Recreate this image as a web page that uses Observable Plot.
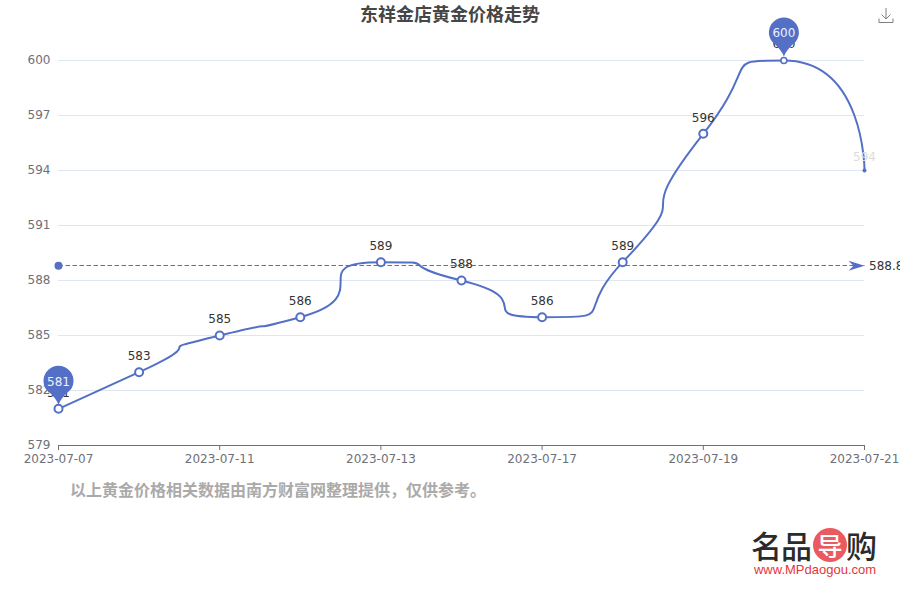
<!DOCTYPE html>
<html>
<head>
<meta charset="utf-8">
<script src="https://cdn.jsdelivr.net/npm/d3@7"></script>
<script src="https://cdn.jsdelivr.net/npm/@observablehq/plot@0.6"></script>
<style>
html,body{margin:0;padding:0;background:#fff;}
#wrap{position:relative;width:900px;height:600px;overflow:hidden;background:#fff;font-family:"DejaVu Sans",sans-serif;}
#wrap svg.plot,#wrap > svg:last-child{position:absolute;left:0;top:0;display:block;}
.t{position:absolute;white-space:nowrap;font-family:"Noto Sans CJK SC",sans-serif;}
#title{left:0;width:900px;top:0;text-align:center;font-size:18px;line-height:26px;font-weight:700;color:#464646;}
#note{left:70px;top:477px;font-size:16px;line-height:24px;font-weight:700;color:#aaa;}
#logoA{left:751px;top:524px;font-size:31px;line-height:42px;font-weight:500;color:#2b2b2b;letter-spacing:-1px;}
#logoB{left:846px;top:524px;font-size:31px;line-height:42px;font-weight:500;color:#2b2b2b;}
#logoC{left:813px;top:528px;width:34px;height:34px;border-radius:50%;background:#ea5a5e;color:#fff;font-size:25px;line-height:34px;text-align:center;font-weight:500;}
#logoU{left:740px;width:150px;top:562px;text-align:center;font-family:"Liberation Sans",Arial,sans-serif;font-size:13px;line-height:16px;color:#e8343a;}
#dl{position:absolute;left:878px;top:7px;}
</style>
</head>
<body>
<div id="wrap">
<div class="t" id="title">东祥金店黄金价格走势</div>
<div class="t" id="note">以上黄金价格相关数据由南方财富网整理提供&#xFF0C;仅供参考。</div>
<div class="t" id="logoA">名品</div>
<div class="t" id="logoC">导</div>
<div class="t" id="logoB">购</div>
<div class="t" id="logoU">www.MPdaogou.com</div>
<svg id="dl" width="16" height="17" viewBox="0 0 16 17" fill="none" stroke="#808080" stroke-width="1"><path d="M8 1V12M3.5 7.5L8 12L12.5 7.5M1 11.5V15.5H15V11.5"/></svg>
</div>
<script>
const dates = ["2023-07-07","2023-07-10","2023-07-11","2023-07-12","2023-07-13","2023-07-14","2023-07-17","2023-07-18","2023-07-19","2023-07-20","2023-07-21"];
const prices = [581,583,585,586,589,588,586,589,596,600,594];
const xTickLabels = ["2023-07-07","2023-07-11","2023-07-13","2023-07-17","2023-07-19","2023-07-21"];
const yTicks = [579,582,585,588,591,594,597,600];
const average = 588.8;
const minDate = "2023-07-07", maxDate = "2023-07-20", lastDate = "2023-07-21";

const BLUE = "#5470C6", AXIS = "#6E7079", GRID = "#E0E6F1";

const rows = dates.map((date, i) => ({date, price: prices[i]}));
const bigRows = rows.filter(d => d.date !== lastDate && d.date !== maxDate);
const maxRow = rows.filter(d => d.date === maxDate);
const lastRow = rows.filter(d => d.date === lastDate);
const plainLabels = rows.filter(d => d.date !== lastDate);
const pinRows = rows.filter(d => d.date === minDate || d.date === maxDate);
const avgRow = [{date: dates[0], end: lastDate, price: average}];

// Smooth line with mid-segment inflections: tangent-based Bezier with tension 1 and clamped control points.
function smoothCurve(context) {
  let pts = [];
  return {
    areaStart() {}, areaEnd() {},
    lineStart() { pts = []; },
    point(x, y) { pts.push([+x, +y]); },
    lineEnd() {
      const n = pts.length, s = 1;
      if (!n) return;
      context.moveTo(pts[0][0], pts[0][1]);
      let cx = pts[0][0], cy = pts[0][1];
      const clamp = (v, a, b) => Math.max(Math.min(v, Math.max(a, b)), Math.min(a, b));
      for (let i = 1; i < n; i++) {
        const [x, y] = pts[i], [px, py] = pts[i - 1];
        let ax = x, ay = y, nx = x, ny = y;
        if (i + 1 < n) {
          const [qx, qy] = pts[i + 1];
          let vx = qx - px, vy = qy - py;
          const l0 = Math.hypot(x - px, y - py), l1 = Math.hypot(qx - x, qy - y);
          const r = l1 / (l0 + l1);
          nx = clamp(x + vx * s * r, qx, x);
          ny = clamp(y + vy * s * r, qy, y);
          vx = nx - x; vy = ny - y;
          ax = clamp(x - vx * l0 / l1, px, x);
          ay = clamp(y - vy * l0 / l1, py, y);
          vx = x - ax; vy = y - ay;
          nx = x + vx * l1 / l0;
          ny = y + vy * l1 / l0;
        }
        context.bezierCurveTo(cx, cy, ax, ay, x, y);
        cx = nx; cy = ny;
      }
    }
  };
}

// Map-pin glyph, sitting just above the data point.
const pinSymbol = {draw(c) {
  const a = 0.6435;
  c.moveTo(0, -4);
  c.quadraticCurveTo(-2.5, -11, -12, -19);
  c.arc(0, -28, 15, Math.PI - a, a, false);
  c.quadraticCurveTo(2.5, -11, 0, -4);
  c.closePath();
}};
// Arrow head whose tip sits on the end of the average line.
const arrowSymbol = {draw(c) {
  c.moveTo(0, 0);
  c.lineTo(-16, -5);
  c.lineTo(-11, 0);
  c.lineTo(-16, 5);
  c.closePath();
}};

const chart = Plot.plot({
  width: 900, height: 600,
  marginLeft: 58, marginRight: 36, marginTop: 60, marginBottom: 155,
  style: {background: "transparent", fontFamily: "'DejaVu Sans',sans-serif", fontSize: "12px", overflow: "visible"},
  x: {type: "point", domain: dates, padding: 0, round: false},
  y: {domain: [579, 600]},
  marks: [
    Plot.ruleY(yTicks.slice(1), {stroke: GRID, strokeWidth: 1}),
    Plot.axisY({ticks: yTicks, tickSize: 0, tickPadding: 8, label: null, fill: AXIS, fontSize: 12}),
    Plot.ruleY([579], {stroke: AXIS, strokeWidth: 1}),
    Plot.axisX({ticks: xTickLabels, tickSize: 5, tickPadding: 4, label: null, stroke: AXIS, fill: AXIS, fontSize: 12}),
    Plot.link(avgRow, {x1: "date", x2: "end", y1: "price", y2: "price", dy: -0.33, stroke: BLUE, strokeWidth: 1, strokeDasharray: "4.5,2.5"}),
    Plot.dot(avgRow, {x: "date", y: "price", r: 4, fill: BLUE, stroke: null}),
    Plot.dot(avgRow, {x: "end", y: "price", r: 1, symbol: arrowSymbol, fill: BLUE, stroke: null}),
    Plot.text(avgRow, {x: "end", y: "price", text: d => String(d.price), dx: 4.5, textAnchor: "start", fill: "#333", fontSize: 12}),
    Plot.line(rows, {x: "date", y: "price", curve: smoothCurve, stroke: BLUE, strokeWidth: 2}),
    Plot.dot(bigRows, {x: "date", y: "price", r: 4, fill: "#fff", stroke: BLUE, strokeWidth: 2}),
    Plot.dot(maxRow, {x: "date", y: "price", r: 3, fill: "#fff", stroke: BLUE, strokeWidth: 1.6}),
    Plot.dot(lastRow, {x: "date", y: "price", r: 2, fill: BLUE, stroke: null}),
    Plot.text(plainLabels, {x: "date", y: "price", text: d => String(d.price), dy: -16, fill: "#333", fontSize: 12}),
    Plot.text(lastRow, {x: "date", y: "price", text: d => String(d.price), dy: -13, fill: "#dcdcdc", fontSize: 12}),
    Plot.dot(pinRows, {x: "date", y: "price", r: 1, symbol: pinSymbol, fill: BLUE, stroke: null}),
    Plot.text(pinRows, {x: "date", y: "price", text: d => String(d.price), dy: -27, fill: "#eef1fb", fontSize: 12})
  ]
});
document.getElementById("wrap").appendChild(chart);
</script>
</body>
</html>
